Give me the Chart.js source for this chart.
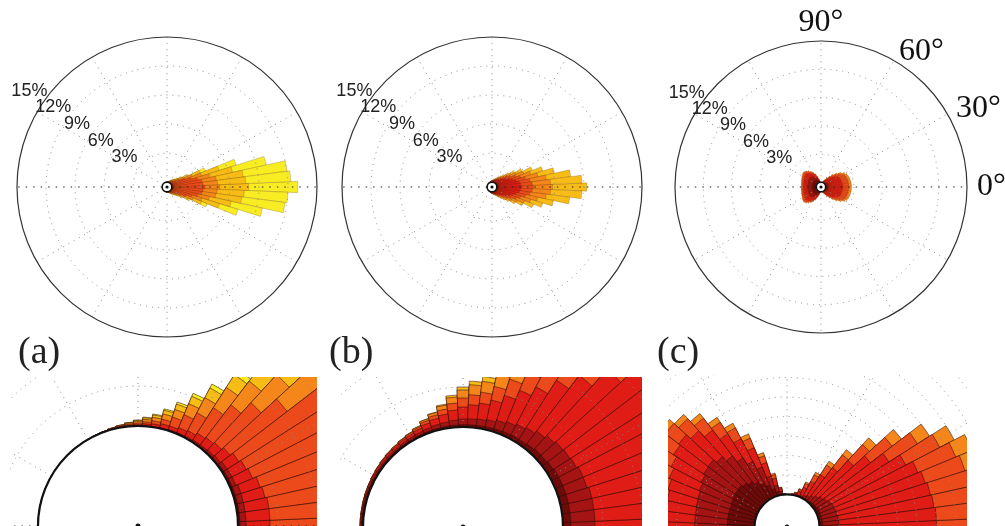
<!DOCTYPE html>
<html><head><meta charset="utf-8">
<script src="https://cdn.jsdelivr.net/npm/chart.js@4.4.1/dist/chart.umd.min.js"></script>
<style>
html,body{margin:0;padding:0;background:#fff;width:1005px;height:526px;overflow:hidden;position:relative}
canvas{position:absolute;display:block}
.clip{position:absolute;overflow:hidden}
.lbl{position:absolute;font-family:"Liberation Serif","DejaVu Serif",serif;font-size:38px;line-height:38px;color:#222;white-space:nowrap}
</style></head><body>
<canvas id="ta" width="360" height="360" style="left:-13px;top:7px"></canvas>
<canvas id="tb" width="360" height="360" style="left:312px;top:7px"></canvas>
<canvas id="tc" width="382" height="382" style="left:630px;top:-4px"></canvas>
<div class="lbl" id="la" style="left:18px;top:331px"></div>
<div class="lbl" id="lb" style="left:329px;top:331px"></div>
<div class="lbl" id="lc" style="left:657px;top:331px"></div>
<div class="clip" style="left:10px;top:377px;width:307px;height:149px"><canvas id="ba" width="800" height="800" style="left:-272px;top:-251px"></canvas></div>
<div class="clip" style="left:340px;top:377px;width:302px;height:149px"><canvas id="bb" width="800" height="800" style="left:-277px;top:-250px"></canvas></div>
<div class="clip" style="left:668px;top:375px;width:299px;height:151px"><canvas id="bc" width="494" height="494" style="left:-128px;top:-95px"></canvas></div>
<script>
// ---------- DATA ----------
// direction bins (deg, counter-clockwise from east), 5 degree sectors
const directionsDeg = [0,5,10,15,20,25,30,35,40,45,50,55,
 60,65,70,75,80,85,90,95,100,105,110,115,
 120,125,130,135,140,145,150,155,160,165,170,175,
 180,185,190,195,200,205,210,215,220,225,230,235,
 240,245,250,255,260,265,270,275,280,285,290,295,
 300,305,310,315,320,325,330,335,340,345,350,355];

// frequency (%) per direction for each class, panel (a)
const a_s1 = [0.01,0.01,0.01,0.01,0.01,0.01,0.01,0.008,0.005,0.004,0.003,0.003,
 0.002,0.002,0.002,0.001,0.001,0.001,0.001,0.001,0.001,0.001,0.001,0.001,
 0,0,0,0,0,0,0,0,0,0,0,0,
 0,0,0,0,0,0,0,0,0,0,0,0,
 0,0.001,0.001,0.001,0.001,0.001,0.001,0.001,0.001,0.001,0.002,0.002,
 0.002,0.003,0.003,0.004,0.005,0.008,0.01,0.01,0.01,0.01,0.01,0.01];
const a_s2 = [0.03,0.03,0.03,0.03,0.03,0.02,0.02,0.02,0.015,0.012,0.01,0.008,
 0.006,0.005,0.004,0.003,0.002,0.002,0.001,0.001,0.001,0.001,0.001,0,
 0,0,0,0,0,0,0,0,0,0,0,0,
 0,0,0,0,0,0,0,0,0,0,0,0,
 0,0,0.001,0.001,0.001,0.001,0.001,0.002,0.002,0.003,0.004,0.005,
 0.006,0.008,0.01,0.012,0.015,0.02,0.02,0.02,0.03,0.03,0.03,0.03];
const a_s3 = [0.12,0.12,0.12,0.11,0.1,0.09,0.08,0.07,0.06,0.05,0.045,0.04,
 0.03,0.025,0.018,0.02,0.013,0.009,0.006,0.004,0.003,0.002,0.001,0,
 0,0,0,0,0,0,0,0,0,0,0,0,
 0,0,0,0,0,0,0,0,0,0,0,0,
 0,0,0.001,0.002,0.002,0.004,0.006,0.008,0.012,0.02,0.018,0.025,
 0.03,0.04,0.045,0.05,0.06,0.07,0.08,0.09,0.1,0.11,0.12,0.12];
const a_s4 = [3.28,3.08,2.98,2.59,2.0,1.41,0.87,0.56,0.36,0.27,0.205,0.15,
 0.1,0.07,0.047,0.023,0.015,0.01,0.007,0.005,0.003,0.002,0,0,
 0,0,0,0,0,0,0,0,0,0,0,0,
 0,0,0,0,0,0,0,0,0,0,0,0,
 0,0,0,0.001,0.003,0.005,0.007,0.009,0.014,0.023,0.043,0.06,
 0.1,0.14,0.205,0.28,0.38,0.61,0.97,1.51,2.05,2.59,2.98,3.08];
const a_s5 = [1.5,1.5,1.5,1.3,1.1,0.8,0.45,0.32,0.25,0.19,0.15,0.12,
 0.085,0.06,0.04,0.027,0.017,0.012,0.008,0.005,0.003,0.001,0,0,
 0,0,0,0,0,0,0,0,0,0,0,0,
 0,0,0,0,0,0,0,0,0,0,0,0,
 0,0,0,0.001,0.002,0.005,0.008,0.011,0.016,0.027,0.038,0.055,
 0.085,0.115,0.15,0.19,0.26,0.34,0.5,0.8,1.1,1.25,1.45,1.45];
const a_s6 = [3.0,2.9,2.8,2.4,1.9,0.9,0.4,0.24,0.15,0.11,0.1,0.075,
 0.055,0.04,0.028,0.019,0.012,0.008,0.005,0.003,0.001,0,0,0,
 0,0,0,0,0,0,0,0,0,0,0,0,
 0,0,0,0,0,0,0,0,0,0,0,0,
 0,0,0,0,0.001,0.003,0.005,0.007,0.011,0.019,0.026,0.038,
 0.055,0.07,0.1,0.115,0.16,0.26,0.43,0.95,1.9,2.3,2.7,2.8];
const a_s7 = [5.06,4.66,4.56,3.56,1.86,0.57,0.17,0.08,0.06,0.045,0.04,0.03,
 0.022,0.016,0.011,0.007,0.005,0.003,0.002,0.001,0,0,0,0,
 0,0,0,0,0,0,0,0,0,0,0,0,
 0,0,0,0,0,0,0,0,0,0,0,0,
 0,0,0,0,0,0.001,0.002,0.002,0.004,0.007,0.01,0.015,
 0.022,0.028,0.04,0.05,0.065,0.09,0.19,0.62,2.01,3.31,4.51,4.51];

// panel (b)
const b_s1 = [0.04,0.04,0.04,0.04,0.04,0.04,0.04,0.035,0.03,0.03,0.025,0.02,
 0.02,0.018,0.016,0.014,0.013,0.012,0.012,0.011,0.01,0.009,0.008,0.007,
 0.007,0.007,0.006,0.006,0.006,0.006,0.006,0.006,0.006,0.006,0.006,0.006,
 0.006,0.006,0.006,0.006,0.006,0.006,0.006,0.006,0.006,0.006,0.006,0.007,
 0.007,0.007,0.008,0.009,0.01,0.011,0.012,0.012,0.013,0.014,0.016,0.018,
 0.02,0.02,0.025,0.03,0.03,0.035,0.04,0.04,0.04,0.04,0.04,0.04];
const b_s2 = [0.12,0.12,0.12,0.12,0.11,0.11,0.1,0.1,0.1,0.09,0.08,0.07,
 0.06,0.052,0.044,0.036,0.032,0.03,0.028,0.024,0.02,0.018,0.015,0.012,
 0.01,0.009,0.008,0.008,0.007,0.006,0.006,0.005,0.005,0.005,0.004,0.004,
 0.004,0.004,0.004,0.005,0.005,0.005,0.006,0.006,0.007,0.008,0.008,0.009,
 0.01,0.012,0.015,0.018,0.02,0.024,0.028,0.03,0.032,0.036,0.044,0.052,
 0.06,0.07,0.08,0.09,0.1,0.1,0.1,0.11,0.11,0.12,0.12,0.12];
const b_s3 = [2.4,2.3,2.2,1.9,1.6,1.3,1.0,0.8,0.6,0.45,0.35,0.28,
 0.21,0.17,0.13,0.1,0.08,0.07,0.06,0.05,0.04,0.03,0.024,0.017,
 0.013,0.011,0.01,0.009,0.008,0.007,0.006,0.005,0.005,0.004,0.004,0.004,
 0.004,0.004,0.004,0.004,0.005,0.005,0.006,0.007,0.008,0.009,0.01,0.011,
 0.013,0.017,0.024,0.03,0.04,0.05,0.06,0.07,0.08,0.1,0.13,0.17,
 0.21,0.28,0.36,0.47,0.62,0.82,1.05,1.35,1.6,1.9,2.2,2.3];
const b_s4 = [1.2,1.2,1.1,1.0,0.85,0.7,0.55,0.45,0.35,0.27,0.21,0.17,
 0.13,0.1,0.085,0.07,0.055,0.05,0.045,0.035,0.025,0.018,0.013,0.009,
 0.007,0.006,0.005,0.004,0.003,0.003,0.002,0.002,0.001,0.001,0.001,0.001,
 0.001,0.001,0.001,0.001,0.001,0.002,0.002,0.003,0.003,0.004,0.005,0.006,
 0.007,0.009,0.013,0.018,0.025,0.035,0.045,0.05,0.055,0.07,0.085,0.1,
 0.13,0.17,0.22,0.28,0.36,0.46,0.57,0.72,0.85,1.0,1.1,1.2];
const b_s5 = [2.0,1.9,1.7,1.3,1.1,0.9,0.66,0.5,0.35,0.27,0.2,0.16,
 0.12,0.1,0.08,0.065,0.055,0.05,0.04,0.03,0.02,0.012,0.008,0.005,
 0.003,0.002,0.001,0.001,0.001,0,0,0,0,0,0,0,
 0,0,0,0,0,0,0,0,0.001,0.001,0.001,0.002,
 0.003,0.005,0.008,0.012,0.02,0.03,0.04,0.05,0.055,0.065,0.08,0.1,
 0.12,0.16,0.21,0.28,0.36,0.52,0.68,0.92,1.1,1.28,1.7,1.9];
const b_s6 = [3.54,3.24,2.54,1.74,1.3,0.95,0.65,0.415,0.27,0.19,0.135,0.1,
 0.08,0.06,0.045,0.035,0.025,0.018,0.015,0.01,0.005,0.003,0.002,0,
 0,0,0,0,0,0,0,0,0,0,0,0,
 0,0,0,0,0,0,0,0,0,0,0,0,
 0,0,0.002,0.003,0.005,0.01,0.015,0.018,0.025,0.035,0.045,0.06,
 0.08,0.1,0.14,0.2,0.28,0.43,0.66,1.0,1.3,1.66,2.44,3.24];

// panel (c)
const c_s1 = [0.05,0.05,0.05,0.05,0.05,0.05,0.05,0.04,0.04,0.03,0.02,0.015,
 0.01,0.006,0.003,0.002,0.001,0.001,0.001,0.003,0.02,0.06,0.12,0.2,
 0.26,0.32,0.38,0.42,0.45,0.45,0.44,0.43,0.42,0.42,0.42,0.42,
 0.42,0.42,0.42,0.42,0.42,0.43,0.44,0.45,0.45,0.42,0.37,0.32,
 0.26,0.2,0.12,0.055,0.018,0.003,0.001,0.001,0.001,0.002,0.003,0.006,
 0.01,0.015,0.02,0.03,0.04,0.04,0.05,0.05,0.05,0.05,0.05,0.05];
const c_s2 = [0.25,0.25,0.25,0.24,0.24,0.23,0.21,0.18,0.15,0.12,0.09,0.06,
 0.04,0.022,0.011,0.005,0.002,0.001,0.001,0.004,0.035,0.1,0.2,0.3,
 0.38,0.44,0.5,0.55,0.58,0.57,0.55,0.53,0.52,0.51,0.5,0.5,
 0.5,0.5,0.5,0.51,0.52,0.53,0.54,0.56,0.57,0.55,0.5,0.44,
 0.37,0.29,0.19,0.095,0.032,0.004,0.001,0.001,0.002,0.005,0.012,0.023,
 0.042,0.062,0.09,0.12,0.15,0.18,0.21,0.23,0.24,0.24,0.25,0.25];
const c_s3 = [1.5,1.5,1.48,1.47,1.44,1.4,1.3,1.14,0.93,0.74,0.54,0.38,
 0.245,0.135,0.065,0.027,0.011,0.004,0.002,0.005,0.04,0.11,0.22,0.32,
 0.39,0.44,0.5,0.54,0.57,0.55,0.52,0.5,0.48,0.46,0.45,0.44,
 0.44,0.44,0.45,0.46,0.48,0.49,0.51,0.54,0.56,0.54,0.49,0.43,
 0.38,0.31,0.21,0.105,0.036,0.005,0.002,0.004,0.011,0.027,0.07,0.14,
 0.255,0.39,0.55,0.75,0.95,1.15,1.31,1.41,1.44,1.47,1.48,1.49];
const c_s4 = [0.65,0.65,0.64,0.65,0.64,0.63,0.59,0.52,0.42,0.33,0.25,0.175,
 0.11,0.062,0.029,0.012,0.005,0.002,0,0.002,0.018,0.055,0.11,0.16,
 0.19,0.21,0.23,0.25,0.26,0.25,0.24,0.23,0.22,0.21,0.2,0.19,
 0.19,0.19,0.2,0.2,0.22,0.23,0.24,0.25,0.25,0.25,0.23,0.21,
 0.19,0.15,0.11,0.05,0.017,0.002,0,0.002,0.005,0.012,0.032,0.065,
 0.115,0.18,0.26,0.34,0.43,0.53,0.6,0.64,0.65,0.65,0.64,0.65];
const c_s5 = [0.3,0.3,0.3,0.29,0.28,0.27,0.25,0.22,0.18,0.14,0.1,0.07,
 0.045,0.025,0.012,0.004,0.001,0,0,0.001,0.007,0.025,0.05,0.07,
 0.08,0.09,0.09,0.09,0.09,0.08,0.07,0.06,0.06,0.06,0.05,0.05,
 0.05,0.05,0.05,0.06,0.06,0.06,0.07,0.08,0.09,0.09,0.09,0.08,
 0.08,0.07,0.05,0.025,0.007,0.001,0,0,0.001,0.004,0.013,0.026,
 0.048,0.073,0.1,0.14,0.18,0.22,0.25,0.27,0.28,0.29,0.3,0.3];

// radial grid / tick labels
const pctTickValues = [3, 6, 9, 12, 15];
const zoomGridAB = [0.2, 0.4, 0.6, 0.8, 1.0, 1.2, 1.4];
const zoomGridC = [0.3, 0.6, 0.9, 1.2, 1.5, 1.8, 2.1, 2.4, 2.7, 3.0, 3.3];
const angleLabelValues = [0, 30, 60, 90];
const spokeAngles = [0, 30, 60, 90, 120, 150, 180, 210, 240, 270, 300, 330];
const panelLetters = ['(a)', '(b)', '(c)'];

// ---------- STYLE ----------
const classColors = ['#6e0a0a', '#a51414', '#e01c16', '#ec4a1a', '#f4861a', '#f8bc16', '#f8ec22'];

const panelA = [a_s1, a_s2, a_s3, a_s4, a_s5, a_s6, a_s7];
const panelB = [b_s1, b_s2, b_s3, b_s4, b_s5, b_s6];
const panelC = [c_s1, c_s2, c_s3, c_s4, c_s5];

const N = directionsDeg.length;
// chart slice i (clockwise from east) -> direction index (N - i) % N
const sliceLabels = directionsDeg.map((_, i) => directionsDeg[(N - i) % N] + '°');

function buildDatasets(classes, bw, edge) {
  const cum = new Array(N).fill(0);
  return classes.map((arr, k) => {
    for (let i = 0; i < N; i++) cum[i] += arr[i];
    const stacked = cum.slice();
    return {
      data: stacked.map((_, i) => stacked[(N - i) % N]),
      backgroundColor: classColors[k],
      borderColor: edge,
      borderWidth: bw
    };
  });
}

function decor(cfg) {
  return {
    id: 'roseDecor',
    afterDatasetsDraw(chart) {
      const s = chart.scales.r, ctx = chart.ctx;
      const r0 = s.getDistanceFromCenterForValue(0), r1 = s.getDistanceFromCenterForValue(s.max);
      ctx.save();
      ctx.lineWidth = 1;
      spokeAngles.forEach(a => {
        const t = a * Math.PI / 180;
        const main = a % 180 === 0;
        ctx.setLineDash(main ? [1.5, 6] : [1, 5]);
        ctx.strokeStyle = main ? '#222' : '#888';
        ctx.beginPath();
        ctx.moveTo(s.xCenter + r0 * Math.cos(t), s.yCenter - r0 * Math.sin(t));
        ctx.lineTo(s.xCenter + r1 * Math.cos(t), s.yCenter - r1 * Math.sin(t));
        ctx.stroke();
      });
      ctx.restore();
    },
    afterDraw(chart) {
      const s = chart.scales.r, ctx = chart.ctx;
      const r0 = s.getDistanceFromCenterForValue(0), r1 = s.getDistanceFromCenterForValue(s.max);
      ctx.save();
      ctx.setLineDash([]);
      ctx.beginPath();
      ctx.arc(s.xCenter, s.yCenter, r0, 0, Math.PI * 2);
      ctx.fillStyle = '#fff';
      ctx.fill();
      ctx.lineWidth = cfg.ringWidth;
      ctx.strokeStyle = '#111';
      ctx.stroke();
      ctx.beginPath();
      ctx.arc(s.xCenter, s.yCenter, cfg.dot, 0, Math.PI * 2);
      ctx.fillStyle = '#111';
      ctx.fill();
      if (cfg.tickLabels) {
        ctx.font = '18px "Liberation Sans", Arial, sans-serif';
        ctx.fillStyle = '#222';
        ctx.textAlign = 'center';
        ctx.textBaseline = 'middle';
        const t = 145 * Math.PI / 180;
        pctTickValues.forEach(v => {
          const rr = s.getDistanceFromCenterForValue(v) + 18;
          ctx.fillText(v + '%', s.xCenter + rr * Math.cos(t), s.yCenter - rr * Math.sin(t));
        });
      }
      if (cfg.angleLabels) {
        ctx.font = '32px "Liberation Serif", "DejaVu Serif", serif';
        ctx.fillStyle = '#111';
        ctx.textBaseline = 'middle';
        angleLabelValues.forEach(a => {
          const t = a * Math.PI / 180;
          const rr = r1 + (a === 90 ? 18 : 10);
          ctx.textAlign = a === 90 ? 'center' : 'left';
          ctx.fillText(a + '°', s.xCenter + rr * Math.cos(t), s.yCenter - rr * Math.sin(t));
        });
      }
      ctx.restore();
    }
  };
}

function makeRose(id, classes, cfg) {
  const solid = cfg.solid;
  return new Chart(document.getElementById(id), {
    type: 'polarArea',
    data: { labels: sliceLabels, datasets: buildDatasets(classes, cfg.bw, cfg.edge) },
    options: {
      responsive: false, animation: false, events: [], devicePixelRatio: 1,
      layout: { padding: cfg.pad },
      plugins: { legend: { display: false }, tooltip: { enabled: false } },
      scales: {
        r: {
          min: -0.5, max: cfg.max, startAngle: 87.5,
          ticks: { display: false },
          afterBuildTicks: (axis) => { axis.ticks = cfg.grid.map(v => ({ value: v })); },
          grid: {
            circular: true, z: 1,
            color: (c) => (c.tick && c.tick.value === solid) ? '#333' : '#8a8a8a',
            lineWidth: (c) => (c.tick && c.tick.value === solid) ? 1.2 : 1
          },
          border: { dash: (c) => (c.tick && c.tick.value === solid) ? [] : [1, 5] },
          angleLines: { display: false },
          pointLabels: { display: false }
        }
      }
    },
    plugins: [decor(cfg)]
  });
}

const topEdge = 'rgba(70,25,5,0.45)';
const zoomEdge = 'rgba(50,15,5,0.7)';
makeRose('ta', panelA, { pad: 30, max: 15, grid: pctTickValues, solid: 15, bw: 0.45, edge: topEdge, ringWidth: 1.6, dot: 1.6, tickLabels: true });
makeRose('tb', panelB, { pad: 30, max: 15, grid: pctTickValues, solid: 15, bw: 0.45, edge: topEdge, ringWidth: 1.6, dot: 1.6, tickLabels: true });
makeRose('tc', panelC, { pad: 45, max: 15, grid: pctTickValues, solid: 15, bw: 0.35, edge: topEdge, ringWidth: 1.6, dot: 1.6, tickLabels: true, angleLabels: true });
makeRose('ba', panelA, { pad: 0, max: 1.5, grid: zoomGridAB, solid: null, bw: 0.8, edge: zoomEdge, ringWidth: 2.2, dot: 2.5 });
makeRose('bb', panelB, { pad: 0, max: 1.5, grid: zoomGridAB, solid: null, bw: 0.8, edge: zoomEdge, ringWidth: 2.2, dot: 2.5 });
makeRose('bc', panelC, { pad: 0, max: 3.3, grid: zoomGridC, solid: null, bw: 0.8, edge: zoomEdge, ringWidth: 2.2, dot: 2.5 });

document.getElementById('la').textContent = panelLetters[0];
document.getElementById('lb').textContent = panelLetters[1];
document.getElementById('lc').textContent = panelLetters[2];
</script>
</body></html>
